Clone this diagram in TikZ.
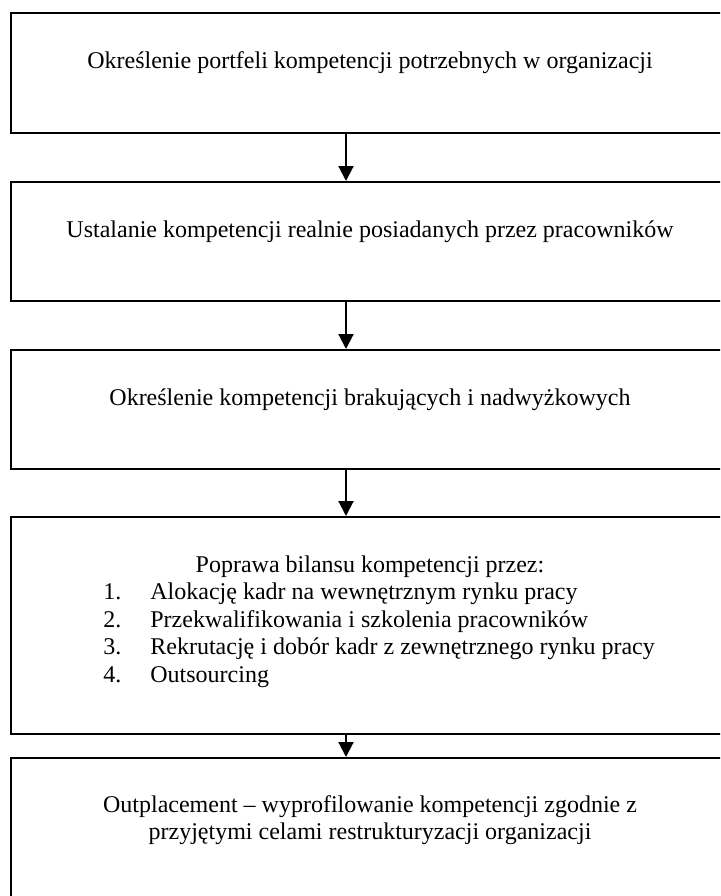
\documentclass[tikz,border=0pt]{standalone}
\usepackage{fontspec}
\setmainfont{Liberation Serif}
\usetikzlibrary{arrows.meta}

\begin{document}
\begin{tikzpicture}[x=0.5pt,y=-0.5pt,
    box/.style={draw,line width=1pt,rectangle,anchor=north west,minimum width=360pt,inner sep=0pt},
    txt/.style={anchor=base,inner sep=0pt,font=\fontsize{12pt}{13.7pt}\selectfont},
    itm/.style={anchor=base west,inner sep=0pt,font=\fontsize{12pt}{13.7pt}\selectfont},
    arr/.style={line width=1pt,-{Triangle[length=7.5pt,width=7.5pt]}}]
	  \useasboundingbox (0,0) rectangle (720,896);
	  \clip (0,0) rectangle (720,896);
	  % Boxes
	  \node [box,minimum height=60pt] (b1) at (10,12) {};
	  \node [box,minimum height=59.5pt] (b2) at (10,181) {};
	  \node [box,minimum height=59.5pt] (b3) at (10,349) {};
	  \node [box,minimum height=108.5pt] (b4) at (10,516) {};
	  \node [box,minimum height=90pt] (b5) at (10,757) {};
	  \coordinate (ax) at (346,0);
	  % Box texts
	  \node [txt] (t1) at (370,68) {Określenie portfeli kompetencji potrzebnych w organizacji};
	  \node [txt] (t2) at (370,237) {Ustalanie kompetencji realnie posiadanych przez pracowników};
	  \node [txt] (t3) at (370,405) {Określenie kompetencji brakujących i nadwyżkowych};
	  \node [txt] (t4) at (370,572) {Poprawa bilansu kompetencji przez:};
	  \node [itm] (n1) at (103,599.5) {1.};
	  \node [itm] (i1) at (150,599.5) {Alokację kadr na wewnętrznym rynku pracy};
	  \node [itm] (n2) at (103,627) {2.};
	  \node [itm] (i2) at (150,627) {Przekwalifikowania i szkolenia pracowników};
	  \node [itm] (n3) at (103,654.5) {3.};
	  \node [itm] (i3) at (150,654.5) {Rekrutację i dobór kadr z zewnętrznego rynku pracy};
	  \node [itm] (n4) at (103,682) {4.};
	  \node [itm] (i4) at (150,682) {Outsourcing};
	  \node [txt] (t5a) at (370,812) {Outplacement – wyprofilowanie kompetencji zgodnie z};
	  \node [txt] (t5b) at (370,839.5) {przyjętymi celami restrukturyzacji organizacji};
	  % Arrows
	  \draw [arr] (b1.south -| ax) -- (b2.north -| ax);
	  \draw [arr] (b2.south -| ax) -- (b3.north -| ax);
	  \draw [arr] (b3.south -| ax) -- (b4.north -| ax);
	  \draw [arr] (b4.south -| ax) -- (b5.north -| ax);
	 \end{tikzpicture}
\end{document}
